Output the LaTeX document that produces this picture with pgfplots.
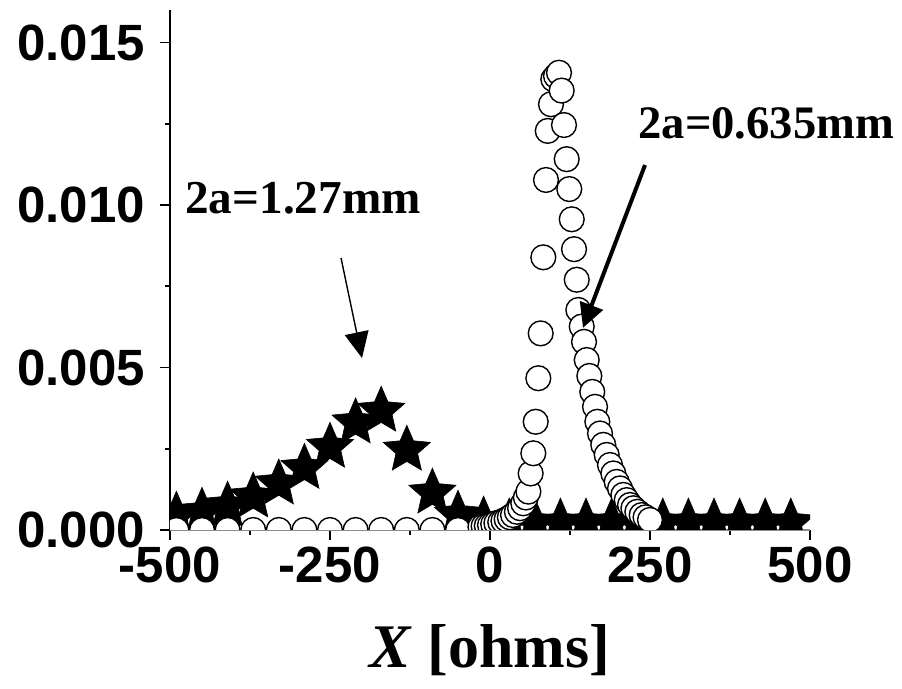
\documentclass[border=0pt]{standalone}
\usepackage{pgfplots}
\pgfplotsset{compat=1.18}
\usepackage{fontspec}
\setmainfont{Liberation Serif}
\newfontfamily\arial{Liberation Sans}
\usetikzlibrary{arrows.meta}

% filled five-pointed star
\pgfdeclareplotmark{fstar}{%
  \pgfpathmoveto{\pgfpointpolar{90}{\pgfplotmarksize}}%
  \pgfpathlineto{\pgfpointpolar{126}{0.46\pgfplotmarksize}}%
  \pgfpathlineto{\pgfpointpolar{162}{\pgfplotmarksize}}%
  \pgfpathlineto{\pgfpointpolar{198}{0.46\pgfplotmarksize}}%
  \pgfpathlineto{\pgfpointpolar{234}{\pgfplotmarksize}}%
  \pgfpathlineto{\pgfpointpolar{270}{0.46\pgfplotmarksize}}%
  \pgfpathlineto{\pgfpointpolar{306}{\pgfplotmarksize}}%
  \pgfpathlineto{\pgfpointpolar{342}{0.46\pgfplotmarksize}}%
  \pgfpathlineto{\pgfpointpolar{18}{\pgfplotmarksize}}%
  \pgfpathlineto{\pgfpointpolar{54}{0.46\pgfplotmarksize}}%
  \pgfpathclose
  \pgfusepathqfillstroke
}

\begin{document}
\begin{tikzpicture}
\useasboundingbox (-85pt,-79.5pt) rectangle (366pt,265pt);
\begin{axis}[
    at={(0,0)}, anchor=south west,
    scale only axis,
    width=320pt, height=260pt,
    xmin=-500, xmax=500,
    ymin=0, ymax=0.016,
    axis x line*=bottom,
    axis y line*=left,
    y axis line style={line width=1pt, black},
    x axis line style={line width=0.8pt, black!45},
    tick align=outside,
    major tick length=5pt,
    minor tick length=2.5pt,
    tick style={black, line width=0.8pt},
    xtick={-500,-250,0,250,500},
    xticklabels={-500,-250,0,250,500},
    ytick={0,0.005,0.01,0.015},
    yticklabels={0.000,0.005,0.010,0.015},
    scaled y ticks=false,
    minor x tick num=1,
    minor y tick num=1,
    ticklabel style={font=\arial\bfseries\fontsize{25.5}{26}\selectfont},
    yticklabel style={xshift=-4pt},
    xlabel={\textbf{\textit{X} [ohms]}},
    xlabel style={font=\fontsize{31}{31}\selectfont, at={(axis description cs:0.5,0)},
        anchor=base, yshift=-69pt, inner sep=0pt},
    clip marker paths=true,
]
\addplot[only marks, mark=fstar, mark size=12.4pt,
    mark options={fill=black, draw=black, line width=0.3pt}] coordinates {
    (-490,0.00043) (-450,0.00055) (-410,0.00074) (-370,0.00102)
    (-330,0.00142) (-290,0.0019) (-250,0.00255) (-210,0.0033)
    (-170,0.00366) (-130,0.00246) (-90,0.00114) (-50,0.00046)
    (-10,0.00028) (30,0.00022) (70,0.00022) (110,0.00022)
    (150,0.00022) (190,0.00022) (230,0.00022) (270,0.00022)
    (310,0.00022) (350,0.00022) (390,0.00022) (430,0.00022)
    (470,0.00022)
};
\addplot[only marks, mark=*, mark size=6.2pt,
    mark options={fill=white, draw=black, line width=0.7pt}] coordinates {
    (-490,0) (-450,0) (-410,0) (-370,0) (-330,0) (-290,0) (-250,0)
    (-210,0) (-170,0) (-130,0) (-90,0) (-50,0)
    (-15,0.0001) (-10,0.00012) (-5,0.00013) (0,0.00015) (5,0.00018)
    (10,0.00021) (16,0.00024) (21,0.00028) (26,0.00033) (31,0.00039)
    (36,0.00046) (42,0.00056) (47,0.00067) (52,0.00082) (56,0.001)
    (60,0.00118) (63.5,0.00174) (67.7,0.00236) (71.4,0.00333)
    (75.5,0.00467) (79.2,0.00605) (83.3,0.00839) (87.5,0.01077)
    (90.2,0.01228) (95.3,0.0131) (98.9,0.01387) (103.1,0.01397)
    (107.8,0.01407) (112,0.01352) (115.6,0.01246) (119.8,0.01141)
    (123.9,0.01049) (127.7,0.00956) (131.3,0.00864) (135.5,0.0077)
    (138,0.00677) (143.3,0.00626) (146.9,0.00579) (151.1,0.00523)
    (155.2,0.00474) (159.8,0.00425) (164.1,0.00379) (167.7,0.00333)
    (171.9,0.00297) (177,0.00262) (182.3,0.00231) (187.5,0.002)
    (192.7,0.00174) (197.9,0.00148) (203.1,0.00128) (208.3,0.00108)
    (213.6,0.00092) (218.8,0.00077) (224,0.00067) (230.2,0.00056)
    (237,0.00046) (243,0.00039) (250,0.00031)
};
\coordinate (l1) at (axis cs:-476.6,0.00975);
\coordinate (l2) at (axis cs:231.3,0.01206);
\coordinate (a1s) at (axis cs:-232.8,0.00837);
\coordinate (a1e) at (axis cs:-200,0.00529);
\coordinate (a2s) at (axis cs:242.2,0.01123);
\coordinate (a2e) at (axis cs:145.3,0.00622);
\end{axis}
\node[anchor=base west, inner sep=0pt, font=\bfseries\fontsize{23.6}{24}\selectfont]
    at (l1) {2a=1.27mm};
\node[anchor=base west, inner sep=0pt, font=\bfseries\fontsize{23.3}{24}\selectfont]
    at (l2) {2a=0.635mm};
\draw[line width=0.7pt, -{Triangle[length=13pt,width=12pt]}] (a1s) -- (a1e);
\draw[line width=2pt, -{Triangle[length=12pt,width=12pt]}] (a2s) -- (a2e);
\end{tikzpicture}
\end{document}
